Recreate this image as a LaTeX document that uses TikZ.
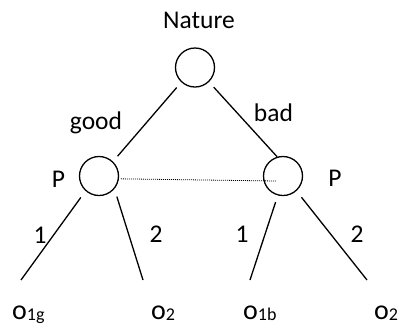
\documentclass[tikz,border=0pt]{standalone}
\usepackage{fontspec}
\setmainfont{Carlito}
\usetikzlibrary{positioning}
\tikzset{
  decnode/.style={draw, circle, line width=1.3pt, minimum size=39pt, inner sep=0pt},
  branch/.style={line width=1.3pt},
  infoset/.style={line width=0.8pt, dash pattern=on 1pt off 1pt},
  lbl/.style={font=\fontsize{25.5}{28}\selectfont, inner sep=0pt, anchor=base},
  leaf/.style={font=\fontsize{28}{30}\selectfont, inner sep=0pt, anchor=base west},
}
\newcommand{\outcome}[1]{o\raisebox{-1pt}{\fontsize{18}{20}\selectfont #1}}

\begin{document}
\begin{tikzpicture}[x=1pt, y=-1pt]
\useasboundingbox (0,0) rectangle (399,325);
% nodes of the tree
\node[decnode] (nat) at (195,67.5) {};
\node[decnode] (pl)  at (99,176) {};
\node[decnode] (pr)  at (283,176) {};

% free ends of the branches
\coordinate (e1g) at (21,280);
\coordinate (e2l) at (143,280);
\coordinate (e1b) at (250,280);
\coordinate (e2r) at (367,280);
\coordinate (infoend) at (276,181);

% labels
\node[lbl] (natlbl) at (199,28) {Nature};
\node[lbl] (good) at (96,129) {good};
\node[lbl] (bad)  at (273.5,121.5) {bad};
\node[lbl] (plbl) at (58.5,187) {P};
\node[lbl] (prlbl) at (335,186) {P};
\node[lbl] (onel) at (40,243) {1};
\node[lbl] (twol) at (156,242) {2};
\node[lbl] (oner) at (242,242) {1};
\node[lbl] (twor) at (357,242) {2};

% outcomes
\node[leaf] (o1g) at (12,319) {\outcome{1g}};
\node[leaf] (o2l) at (151,319) {\outcome{2}};
\node[leaf] (o1b) at (243,319) {\outcome{1b}};
\node[leaf] (o2r) at (374,319) {\outcome{2}};

% branches
\draw[branch, shorten <=7pt, shorten >=7pt] (nat.-133) -- (pl.46);
\draw[branch, shorten <=7pt] (nat.-46) -- (pr.107);
\draw[infoset, shorten <=2pt] (pl.-8) -- (infoend);
\draw[branch, shorten <=8pt] (pl.-132) -- (e1g);
\draw[branch, shorten <=8pt] (pl.-40) -- (e2l);
\draw[branch, shorten <=7pt] (pr.-105) -- (e1b);
\draw[branch, shorten <=8pt] (pr.-48) -- (e2r);
\end{tikzpicture}
\end{document}
